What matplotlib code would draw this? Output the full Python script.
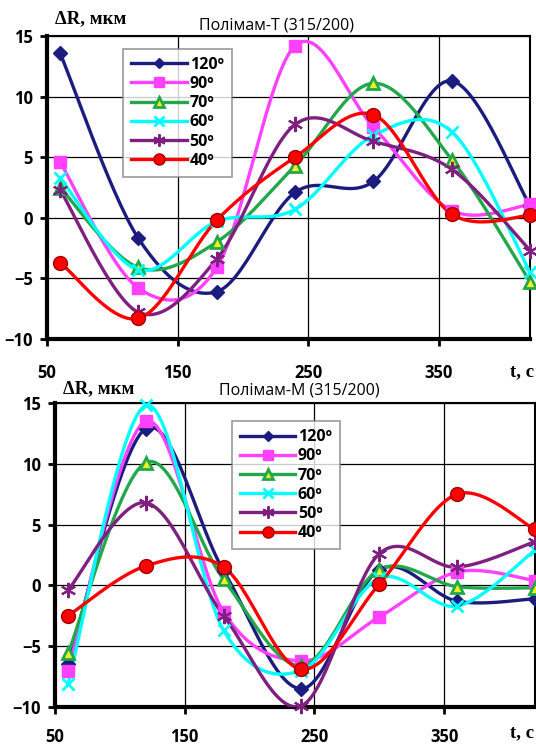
import numpy as np
from matplotlib import pyplot as plt

t = [60, 120, 180, 240, 300, 360, 420]
labels = ['120º', '90º', '70º', '60º', '50º', '40º']

# Полімам-Т (315/200)
top_120 = [13.6, -1.7, -6.1, 2.1, 3.0, 11.3, 1.0]
top_90 = [4.6, -5.8, -4.1, 14.2, 7.5, 0.6, 1.1]
top_70 = [2.5, -4.1, -2.0, 4.3, 11.1, 4.8, -5.3]
top_60 = [3.3, -4.3, -0.3, 0.7, 6.8, 7.1, -4.5]
top_50 = [2.3, -7.8, -3.4, 7.7, 6.3, 4.0, -2.7]
top_40 = [-3.7, -8.3, -0.2, 5.0, 8.5, 0.3, 0.2]

# Полімам-М (315/200)
bot_120 = [-6.5, 12.9, 1.2, -8.5, 1.3, -1.3, -1.1]
bot_90 = [-7.0, 13.5, -2.2, -6.2, -2.6, 1.1, 0.4]
bot_70 = [-5.6, 10.1, 0.5, -6.6, 1.3, -0.1, -0.2]
bot_60 = [-8.1, 14.8, -3.7, -7.0, 0.6, -1.7, 2.9]
bot_50 = [-0.4, 6.8, -2.5, -9.9, 2.6, 1.5, 3.6]
bot_40 = [-2.5, 1.6, 1.5, -6.9, 0.1, 7.5, 4.6]

styles = [
    dict(color='#1c1c7e', marker='D', ms=7, mfc='#1c1c7e', mec='#1c1c7e'),
    dict(color='#ff40ff', marker='s', ms=9, mfc='#ff40ff', mec='#ff40ff'),
    dict(color='#22a84a', marker='^', ms=9, mfc='#f0f020', mec='#22a84a', mew=2),
    dict(color='#00ffff', marker='x', ms=9, mfc='#00ffff', mec='#00ffff', mew=2),
    dict(color='#7f1f7f', marker=(6, 2, 0), ms=11, mfc='#7f1f7f', mec='#7f1f7f', mew=1.5),
    dict(color='#ff0000', marker='o', ms=10, mfc='#ff0000', mec='#a00000', mew=1),
]


def smooth(x, y, n=30):
    # Excel-like smoothed line (Catmull-Rom as Bezier)
    x = np.asarray(x, float)
    y = np.asarray(y, float)
    p = np.column_stack([x, y])
    pts = []
    for i in range(len(p) - 1):
        p0 = p[i - 1] if i > 0 else p[i]
        p3 = p[i + 2] if i + 2 < len(p) else p[i + 1]
        b0, b3 = p[i], p[i + 1]
        b1 = b0 + (b3 - p0) / 6
        b2 = b3 - (p3 - b0) / 6
        s = np.linspace(0, 1, n)[:, None]
        seg = (1 - s) ** 3 * b0 + 3 * (1 - s) ** 2 * s * b1 + 3 * (1 - s) * s ** 2 * b2 + s ** 3 * b3
        pts.append(seg if i == 0 else seg[1:])
    pts = np.vstack(pts)
    return pts[:, 0], pts[:, 1]


def draw(ax, series, title, tx, ty, fig, legend_box, xpad):
    for vals, lab, st in zip(series, labels, styles):
        sx, sy = smooth(t, vals)
        ax.plot(sx, sy, color=st['color'], lw=2.4, zorder=3)
        ax.plot(t, vals, ls='none', clip_on=False, zorder=4,
                **{k: v for k, v in st.items() if k != 'color'})
        ax.plot([], [], color=st['color'], lw=2.4, label=lab,
                **{k: v for k, v in st.items() if k != 'color'})
    ax.set_xlim(50, 420)
    ax.set_ylim(-10, 15)
    ax.set_xticks([50, 150, 250, 350])
    ax.set_yticks([-10, -5, 0, 5, 10, 15])
    ax.grid(True, color='black', lw=0.9)
    ax.tick_params(direction='out', length=5, width=2, labelsize=12, pad=5)
    ax.tick_params(axis='x', pad=xpad)
    for lbl in ax.get_xticklabels() + ax.get_yticklabels():
        lbl.set_fontweight('bold')
        lbl.set_family('Open Sans')
    for side in ['left', 'bottom']:
        ax.spines[side].set_linewidth(3)
    for side in ['top', 'right']:
        ax.spines[side].set_linewidth(1.5)
    leg = ax.legend(loc='upper left', bbox_to_anchor=legend_box, frameon=True, fancybox=False,
                    handlelength=3.5, handletextpad=0.15, labelspacing=0.2, borderpad=0.5,
                    markerscale=0.8, borderaxespad=0,
                    prop={'family': 'Open Sans', 'weight': 'bold', 'size': 11.5})
    leg.get_frame().set_edgecolor('#808080')
    leg.get_frame().set_linewidth(1.2)
    fig.text(tx, ty, title, ha='center', va='center', fontsize=11.5, family='Open Sans')


fig = plt.figure(figsize=(5.36, 7.46), dpi=100)
ax1 = fig.add_axes([0.0877, 0.5456, 0.9013, 0.4061])
ax2 = fig.add_axes([0.1026, 0.0523, 0.8954, 0.4075])

draw(ax1, [top_120, top_90, top_70, top_60, top_50, top_40], 'Полімам-Т (315/200)',
     0.515, 0.966, fig, (0.158, 0.958), 13)
draw(ax2, [bot_120, bot_90, bot_70, bot_60, bot_50, bot_40], 'Полімам-М (315/200)',
     0.558, 0.476, fig, (0.368, 0.94), 10)

fig.text(0.102, 0.975, 'ΔR, мкм', fontsize=13.5, fontweight='bold', family='Liberation Serif', va='center')
fig.text(0.117, 0.479, 'ΔR, мкм', fontsize=13.5, fontweight='bold', family='Liberation Serif', va='center')
fig.text(0.952, 0.502, 't, c', fontsize=13.5, fontweight='bold', family='Liberation Serif', va='center')
fig.text(0.952, 0.018, 't, c', fontsize=13.5, fontweight='bold', family='Liberation Serif', va='center')

fig.savefig('out.png', dpi=100)
